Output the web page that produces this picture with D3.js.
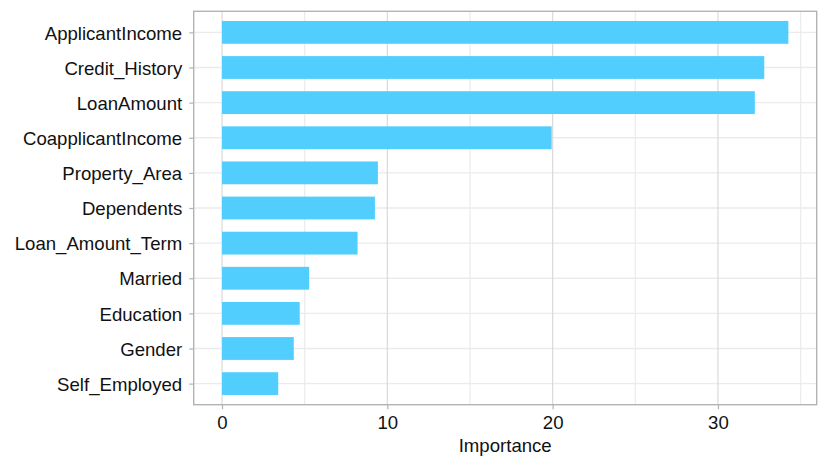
<!DOCTYPE html>
<html><head><meta charset="utf-8">
<script src="https://cdn.jsdelivr.net/npm/d3@7"></script>
<style>body{margin:0;background:#fff}svg{display:block}text{font-family:"Liberation Sans",Arial,sans-serif}</style>
</head><body>
<svg id="c" width="830" height="467"></svg>
<script>
const features = ["ApplicantIncome","Credit_History","LoanAmount","CoapplicantIncome","Property_Area","Dependents","Loan_Amount_Term","Married","Education","Gender","Self_Employed"];
const importance = [34.26, 32.8, 32.23, 19.94, 9.43, 9.25, 8.2, 5.27, 4.7, 4.34, 3.4];
const majorTicks = [0, 10, 20, 30];
const minorTicks = [5, 15, 25, 35];
const xTitle = "Importance";

const svg = d3.select("#c");
const L = 193.7, R = 816.7, T = 11.3, B = 404.7;
const maxV = d3.max(importance);
const ex = maxV * 0.05;
const x = d3.scaleLinear().domain([-ex, maxV + ex]).range([L, R]);
const y = d3.scalePoint().domain(features).range([T, B]).padding(0.6);
const step = y.step();
const bh = step * 0.65;
const FS = "18.6px";

// gridlines
svg.append("g").selectAll("line").data(features).join("line")
  .attr("x1", L).attr("x2", R).attr("y1", d => y(d)).attr("y2", d => y(d))
  .attr("stroke", "#ebebeb").attr("stroke-width", 1.4);
svg.append("g").selectAll("line").data(minorTicks).join("line")
  .attr("x1", d => x(d)).attr("x2", d => x(d)).attr("y1", T).attr("y2", B)
  .attr("stroke", "#ececec").attr("stroke-width", 1.3);
svg.append("g").selectAll("line").data(majorTicks).join("line")
  .attr("x1", d => x(d)).attr("x2", d => x(d)).attr("y1", T).attr("y2", B)
  .attr("stroke", "#dadada").attr("stroke-width", 1.2);

// bars
svg.append("g").selectAll("rect").data(features).join("rect")
  .attr("x", x(0)).attr("y", d => y(d) - bh / 2)
  .attr("width", (d, i) => x(importance[i]) - x(0)).attr("height", bh)
  .attr("fill", "#52cefe");

// panel border
svg.append("rect").attr("x", L).attr("y", T).attr("width", R - L).attr("height", B - T)
  .attr("fill", "none").attr("stroke", "#b3b3b3").attr("stroke-width", 1.4);

// axes
const xa = svg.append("g").attr("transform", `translate(0,${B})`)
  .call(d3.axisBottom(x).tickValues(majorTicks).tickSize(4.5).tickPadding(7).tickFormat(d3.format("d")));
const ya = svg.append("g").attr("transform", `translate(${L},0)`)
  .call(d3.axisLeft(y).tickSize(4.5).tickPadding(7));
[xa, ya].forEach(a => {
  a.select(".domain").remove();
  a.selectAll(".tick line").attr("stroke", "#b3b3b3").attr("stroke-width", 1.2);
  a.selectAll(".tick text").attr("fill", "#111").style("font-size", FS).style("font-family", '"Liberation Sans",Arial,sans-serif');
});
xa.selectAll(".tick text").attr("dy", "0.71em");
ya.selectAll(".tick text").attr("dy", "0.36em");

svg.append("text").attr("x", (L + R) / 2).attr("y", 452).attr("text-anchor", "middle")
  .attr("fill", "#111").style("font-size", FS).text(xTitle);
</script>
</body></html>
